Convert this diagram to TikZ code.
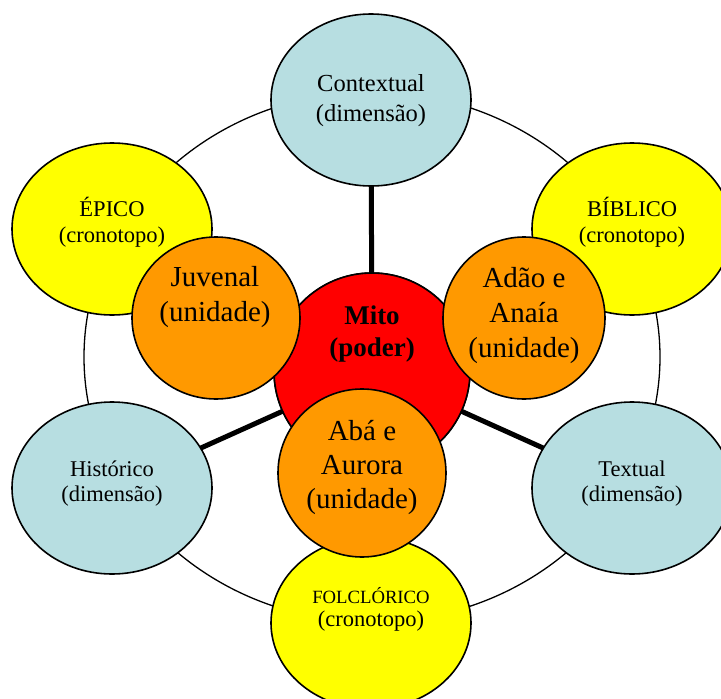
\documentclass[tikz,border=0pt]{standalone}
\usepackage{fontspec}
\setmainfont{Liberation Serif}
\usetikzlibrary{shapes.geometric}
\definecolor{lblue}{RGB}{183,222,225}
\definecolor{yell}{RGB}{255,255,0}
\definecolor{oran}{RGB}{255,153,0}
\definecolor{redc}{RGB}{255,0,0}
\newcommand{\fs}[2]{\fontsize{#1}{#2}\selectfont}
\tikzset{
  blob/.style={ellipse, draw=black, line width=1.6pt, inner sep=0pt, outer sep=0pt},
  dim/.style={blob, fill=lblue, minimum width=200pt, minimum height=172pt},
  crono/.style={blob, fill=yell, minimum width=200pt, minimum height=172pt},
  unid/.style={blob, fill=oran},
  txt/.style={align=center, inner sep=0pt, text=black},
  spoke/.style={line width=5pt, black},
}
\begin{document}
\begin{tikzpicture}[x=1pt,y=-1pt]
\useasboundingbox (0,0) rectangle (721,699);
% outer ring
\node[ellipse, draw=black, line width=1.3pt, minimum width=576pt, minimum height=530pt, inner sep=0pt] (ring) at (372,357) {};
% shapes
\node[dim] (ctx) at (371,100) {};
\node[crono] (epico) at (112,229) {};
\node[crono] (biblico) at (632,229) {};
\node[dim] (hist) at (112,488) {};
\node[dim] (textual) at (632,488) {};
\node[crono] (folc) at (371,623) {};
\node[blob, fill=redc, minimum width=196pt, minimum height=196pt] (mito) at (372,371) {};
\draw[spoke] (ctx) -- (mito);
\draw[spoke] (hist) -- (mito);
\draw[spoke] (textual) -- (mito);
\node[blob, fill=redc, minimum width=196pt, minimum height=196pt] at (mito.center) {};
\node[unid, minimum width=168pt, minimum height=162pt] (juv) at (216,318) {};
\node[unid, minimum width=162pt, minimum height=162pt] (adao) at (524,318) {};
\node[unid, minimum width=168pt, minimum height=168pt] (aba) at (362,473) {};
% texts
\node[txt, font=\fs{24.5}{30}] (tctx) at (371,101) {Contextual\\(dimensão)};
\node[txt, font=\fs{22.5}{26}] (tepico) at (112,222) {ÉPICO\\(cronotopo)};
\node[txt, font=\fs{22.5}{26}] (tbiblico) at (632,222) {BÍBLICO\\(cronotopo)};
\node[txt, font=\fs{22.5}{25}] (thist) at (112,484) {Histórico\\(dimensão)};
\node[txt, font=\fs{22.5}{25}] (ttextual) at (632,484) {Textual\\(dimensão)};
\node[txt, font=\fs{22.5}{23}] (tfolc) at (371,609) {{\fs{18.7}{23}FOLCLÓRICO}\\(cronotopo)};
\node[txt, font=\fs{29}{35}] (tjuv) at (215,297) {Juvenal\\(unidade)};
\node[txt, font=\fs{27}{32}\bfseries] (tmito) at (372,334) {Mito\\(poder)};
\node[txt, font=\fs{29}{35}] (tadao) at (524,316) {Adão e\\Anaía\\(unidade)};
\node[txt, font=\fs{29}{34}] (taba) at (362,467) {Abá e\\Aurora\\(unidade)};
\end{tikzpicture}
\end{document}
